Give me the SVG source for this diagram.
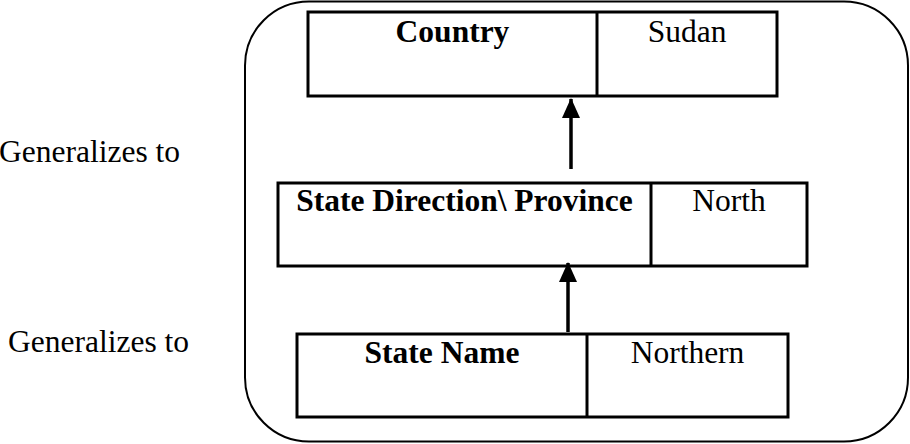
<svg xmlns="http://www.w3.org/2000/svg" width="910" height="444" viewBox="0 0 910 444">
<style>
.box{fill:none;stroke:#000;stroke-width:3}
.b{font-family:"Liberation Serif","Times New Roman",serif;font-size:31.5px;font-weight:bold;fill:#000;text-anchor:middle}
.r{font-family:"Liberation Serif","Times New Roman",serif;font-size:31.5px;fill:#000;text-anchor:middle}
.l{font-family:"Liberation Serif","Times New Roman",serif;font-size:31.5px;fill:#000}
.conn{stroke:#000;stroke-width:3.5;fill:none}
</style>
<defs>
<marker id="ah" markerUnits="userSpaceOnUse" markerWidth="20" markerHeight="18" refX="19" refY="9" orient="auto" viewBox="0 0 20 18">
<path d="M0,0 L20,9 L0,18 Z" fill="#000"/>
</marker>
</defs>
<rect id="container" x="245" y="1.5" width="663" height="440" rx="64" ry="64" fill="none" stroke="#000" stroke-width="2"/>
<text class="l" x="-1" y="162">Generalizes to</text>
<text class="l" x="8" y="352">Generalizes to</text>
<g id="country">
<rect class="box" x="308" y="12" width="469" height="84"/>
<line class="box" x1="597" y1="12" x2="597" y2="96"/>
<text class="b" x="452.5" y="42">Country</text>
<text class="r" x="687" y="42">Sudan</text>
</g>
<g id="province">
<rect class="box" x="278" y="183" width="529" height="83"/>
<line class="box" x1="651" y1="183" x2="651" y2="266"/>
<text class="b" x="464.5" y="211">State Direction\ Province</text>
<text class="r" x="729" y="211">North</text>
</g>
<g id="statename">
<rect class="box" x="297" y="334" width="491" height="83"/>
<line class="box" x1="587" y1="334" x2="587" y2="417"/>
<text class="b" x="442" y="363">State Name</text>
<text class="r" x="687.5" y="363">Northern</text>
</g>
<g id="connectors">
<line class="conn" x1="571" y1="169" x2="571" y2="99" marker-end="url(#ah)"/>
<line class="conn" x1="568" y1="332" x2="568" y2="263" marker-end="url(#ah)"/>
</g>
</svg>
